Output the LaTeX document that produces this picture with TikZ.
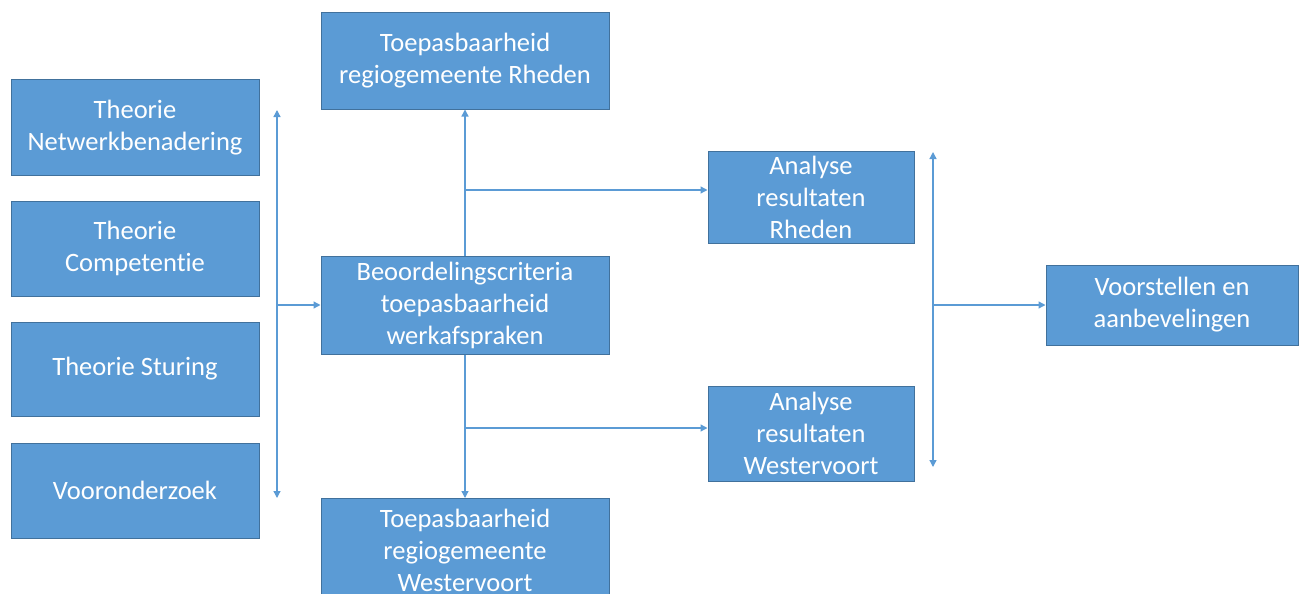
\documentclass[tikz,border=0pt]{standalone}
\usepackage{fontspec}
\setmainfont[Ligatures=NoCommon]{Carlito}
\usetikzlibrary{arrows.meta}
\definecolor{boxfill}{HTML}{5B9BD5}
\definecolor{boxline}{HTML}{41719C}
\definecolor{arrowc}{HTML}{5B9BD5}
\begin{document}
\begin{tikzpicture}[x=1pt,y=-1pt,
  blk/.style={draw=boxline,line width=1pt,fill=boxfill,text=white,align=center,
    font=\fontsize{26.5}{32}\selectfont,inner sep=0pt},
  conn/.style={draw=arrowc,line width=1.3pt},
  arr/.style={conn,-{Triangle[length=7pt,width=7pt]}},
  darr/.style={conn,{Triangle[length=7pt,width=7pt]}-{Triangle[length=7pt,width=7pt]}}]
\useasboundingbox (0,0) rectangle (1304,594);
\clip (0,0) rectangle (1304,594);
\newcommand{\bx}[6]{\node[blk,minimum width={#4-#2},minimum height={#5-#3}] (#1) at ({(#2+#4)/2},{(#3+#5)/2}) {#6};}
\bx{t1}{11}{80}{259}{175}{Theorie\\Netwerkbenadering}
\bx{t2}{11}{201}{259}{296}{Theorie\\Competentie}
\bx{t3}{11}{322}{259}{416}{Theorie Sturing}
\bx{t4}{11}{443}{259}{538}{Vooronderzoek}
\bx{top}{321}{13}{609}{109}{Toepasbaarheid\\regiogemeente Rheden}
\bx{mid}{321}{256}{609}{354}{Beoordelingscriteria\\toepasbaarheid\\werkafspraken}
\node[blk,minimum width=288,minimum height=104,anchor=north] (bot) at (465,498) {};
\node[text=white,align=center,font=\fontsize{26.5}{32}\selectfont,inner sep=0pt] (bottxt) at (465,550) {Toepasbaarheid\\regiogemeente\\Westervoort};
\bx{ar}{708}{151}{914}{243}{Analyse\\resultaten\\Rheden}
\bx{aw}{708}{386}{914}{481}{Analyse\\resultaten\\Westervoort}
\bx{vo}{1046}{265}{1298}{345}{Voorstellen en\\aanbevelingen}
\coordinate (l1) at (277,110);
\coordinate (l2) at (277,498);
\coordinate (lm) at (277,305);
\draw[darr] (l1) -- (l2);
\draw[arr] (lm) -- (mid.west|-lm);
\draw[arr] (mid.north) -- (top.south);
\draw[arr] (mid.south) -- (bot.north);
\coordinate (j1) at (465,190);
\coordinate (j2) at (465,428);
\draw[arr] (j1) -- (ar.west|-j1);
\draw[arr] (j2) -- (aw.west|-j2);
\coordinate (r1) at (933,152);
\coordinate (r2) at (933,467);
\coordinate (rm) at (933,305);
\draw[darr] (r1) -- (r2);
\draw[arr] (rm) -- (vo.west|-rm);
\end{tikzpicture}
\end{document}
